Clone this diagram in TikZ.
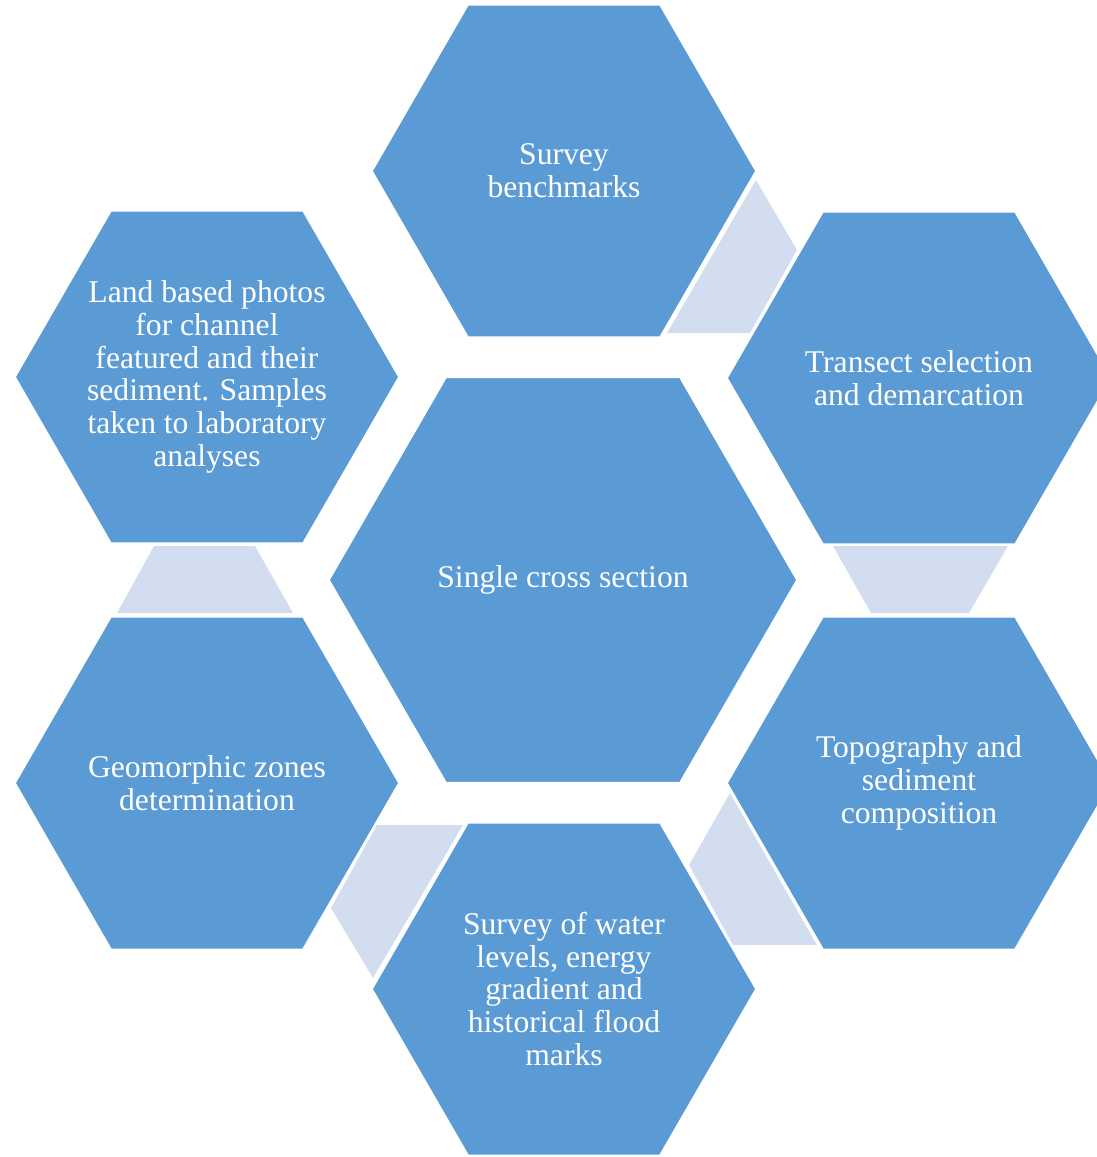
\documentclass[tikz,border=0pt]{standalone}
\usepackage{fontspec}
\setmainfont{Liberation Serif}
\usepackage{xcolor}
\usetikzlibrary{positioning}

\definecolor{hexblue}{HTML}{5B9BD5}
\definecolor{hexpale}{HTML}{D2DEEF}

\begin{document}
\begin{tikzpicture}[x=0.02cm, y=-0.02cm,
  hexcell/.style={fill=hexblue, draw=white, line width=0.9pt},
  hexlabel/.style={text=white, align=center, inner sep=0pt,
    font=\fontsize{18}{18.7}\selectfont},
  linkpiece/.style={fill=hexpale}]

  \useasboundingbox (0,0) rectangle (1097,1157);
  \clip (0,0) rectangle (1097,1157);

  % Pale pieces between the cells
  \fill[linkpiece] (756,180) -- (797,250) -- (750,333) -- (667,333) -- cycle;
  \fill[linkpiece] (833,546) -- (1008,546) -- (969,613) -- (871,613) -- cycle;
  \fill[linkpiece] (730,793) -- (689,865) -- (733,945) -- (817,945) -- cycle;
  \fill[linkpiece] (377,825) -- (463,825) -- (373,978) -- (331,908) -- cycle;
  \fill[linkpiece] (154,546) -- (255,546) -- (293,613) -- (117,613) -- cycle;

  % Hexagon cells
  \foreach \n/\x/\y/\r/\txt in {
      bench/564/171/192/{Survey\\benchmarks},
      transect/919/378/192/{Transect selection\\and demarcation},
      photos/207/377/192/{Land based photos\\for channel\\featured and their\\sediment. Samples\\taken to laboratory\\analyses},
      cross/563/580/234/{Single cross section},
      geo/207/783/192/{Geomorphic zones\\determination},
      topo/919/783/192/{Topography and\\sediment\\composition},
      water/564/989/192/{Survey of water\\levels, energy\\gradient and\\historical flood\\marks}} {

    \filldraw[hexcell] (\x,\y)
      +(0:\r) -- +(60:\r) -- +(120:\r)
      -- +(180:\r) -- +(240:\r) -- +(300:\r) -- cycle;

    \node[hexlabel] (\n) at (\x,\y) {\txt};
  }
\end{tikzpicture}
\end{document}
